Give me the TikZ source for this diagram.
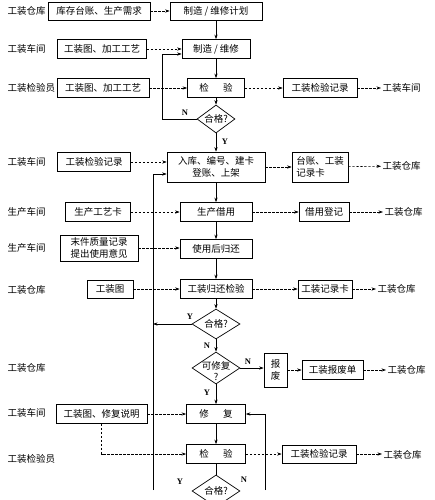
\documentclass[tikz,border=0pt]{standalone}
\usepackage{fontspec}
\setmainfont{Liberation Serif}
\newfontfamily\cjk{Noto Sans CJK SC}
\usetikzlibrary{arrows.meta,shapes.geometric}

\begin{document}
\begin{tikzpicture}[
  x=1pt, y=-1pt,
  every node/.style={font=\cjk\fontsize{9.5}{11.5}\selectfont},
  box/.style={rectangle, draw, line width=0.7pt, align=center, inner sep=1pt, minimum height=19pt},
  who/.style={anchor=west, inner sep=1.5pt},
  dec/.style={diamond, draw, line width=0.7pt, aspect=1.5, inner sep=0pt, minimum width=48pt, minimum height=30pt},
  yn/.style={font=\fontsize{8.5}{10}\selectfont\bfseries, inner sep=0pt},
  arrow/.style={-{Stealth[length=4.5pt,width=3.2pt]}, line width=0.6pt},
  darrow/.style={arrow, dash pattern=on 2.2pt off 1.8pt}
]
\useasboundingbox (0,0) rectangle (435,500);
\clip (0,0) rectangle (435,500);

\node[who] (w1) at (6,11) {工装仓库};
\node[box, minimum width=102pt, minimum height=18pt] (kucun) at (99,11) {库存台账、生产需求};
\node[box, minimum width=92pt, minimum height=18pt] (jihua) at (216,11) {制造 / 维修计划};

\node[who] (w2) at (6,49) {工装车间};
\node[box, minimum width=89pt] (tu1) at (102,49) {工装图、加工工艺};
\node[box, minimum width=68pt] (zhizao) at (216,49) {制造 / 维修};

\node[who] (w3) at (6,88) {工装检验员};
\node[box, minimum width=92pt] (tu2) at (103,88) {工装图、加工工艺};
\node[box, minimum width=57pt] (jian1) at (216,88) {检\hspace{1.5em}验};
\node[box, minimum width=74pt] (jl1) at (320,88) {工装检验记录};
\node[who] (to1) at (381,88) {工装车间};

\node[dec, minimum width=38pt, minimum height=28pt] (hg1) at (216,119) {合格?};

\node[who] (w4) at (6,162) {工装车间};
\node[box, minimum width=73pt] (jl0) at (94,162) {工装检验记录};
\node[box, minimum width=98pt, minimum height=30pt] (ruku) at (216,167) {入库、编号、建卡\\登账、上架};
\node[box, minimum width=56pt, minimum height=30pt, align=left] (taizhang) at (320,167) {台账、工装\\记录卡};
\node[who] (to2) at (381,166) {工装仓库};

\node[who] (w5) at (6,212) {生产车间};
\node[box, minimum width=65pt] (gyk) at (98,212) {生产工艺卡};
\node[box, minimum width=72pt] (jieyong) at (216,212) {生产借用};
\node[box, minimum width=50pt] (dengji) at (324,212) {借用登记};
\node[who] (to3) at (383,212) {工装仓库};

\node[who] (w6) at (6,248) {生产车间};
\node[box, minimum width=78pt, minimum height=26pt] (mojian) at (99,248) {末件质量记录\\提出使用意见};
\node[box, minimum width=72pt] (guihuan) at (216,249) {使用后归还};

\node[who] (w7) at (6,290) {工装仓库};
\node[box, minimum width=46pt, minimum height=18pt] (tu3) at (110,289) {工装图};
\node[box, minimum width=72pt] (ghjy) at (216,289) {工装归还检验};
\node[box, minimum width=54pt, minimum height=18pt] (jlk) at (325,289) {工装记录卡};
\node[who] (to4) at (376,289) {工装仓库};

\node[dec] (hg2) at (216,324) {合格?};

\node[who] (w8) at (6,368) {工装仓库};
\node[dec, minimum height=32pt] (kxf) at (216,368) {};
\node[inner sep=0pt, align=center] (kxft) at (216,371) {可修复\\?};
\node[box, minimum width=23pt, minimum height=34pt] (baofei) at (275.5,370) {报\\废};
\node[box, minimum width=61pt] (bfd) at (332.5,370) {工装报废单};
\node[who] (to5) at (386,370) {工装仓库};

\node[who] (w9) at (6,413) {工装车间};
\node[box, minimum width=91pt] (tu4) at (101.5,414) {工装图、修复说明};
\node[box, minimum width=59pt] (xiufu) at (216,414) {修\hspace{1.5em}复};

\node[who] (w10) at (6,459) {工装检验员};
\node[box, minimum width=59pt] (jian2) at (216,454) {检\hspace{1.5em}验};
\node[box, minimum width=74pt, minimum height=18pt] (jl2) at (319,454) {工装检验记录};
\node[who] (to6) at (382,455) {工装仓库};

\node[dec, minimum height=32pt] (hg3) at (216,491) {合格?};

\node[yn] (n1) at (185,113) {N};
\node[yn] (y1) at (225,142) {Y};
\node[yn] (y2) at (190,317) {Y};
\node[yn] (n2) at (207,346) {N};
\node[yn] (n3) at (248,362) {N};
\node[yn] (y3) at (207,393) {Y};
\node[yn] (y4) at (180,482) {Y};
\node[yn] (n4) at (244,480) {N};

\coordinate (nA) at (162,54);
\coordinate (yA) at (153,174);
\coordinate (yB) at (153,490);
\coordinate (nB) at (265,490);

\draw[darrow] (kucun) -- (jihua);
\draw[arrow] (jihua) -- (zhizao);
\draw[darrow] (tu1) -- (zhizao);
\draw[arrow] (zhizao) -- (jian1);
\draw[darrow] (tu2) -- (jian1);
\draw[darrow] (jian1) -- (jl1);
\draw[darrow] (jl1) -- (to1);
\draw[arrow] (jian1) -- (hg1);
\draw[arrow] (hg1.west) -| (nA) -- (nA -| zhizao.west);
\draw[arrow] (hg1) -- (ruku);
\draw[darrow] (jl0) -- (jl0 -| ruku.west);
\draw[darrow] (ruku) -- (taizhang);
\draw[darrow] (taizhang) -- (to2);
\draw[arrow] (yB) -- (yA) -- (yA -| ruku.west);
\draw[arrow] (ruku) -- (jieyong);
\draw[darrow] (gyk) -- (jieyong);
\draw[darrow] (jieyong) -- (dengji);
\draw[darrow] (dengji) -- (to3);
\draw[arrow] (jieyong) -- (guihuan);
\draw[darrow] (mojian) -- (mojian -| guihuan.west);
\draw[arrow] (guihuan) -- (ghjy);
\draw[darrow] (tu3) -- (ghjy);
\draw[darrow] (ghjy) -- (jlk);
\draw[darrow] (jlk) -- (to4);
\draw[arrow] (ghjy) -- (hg2);
\draw[arrow] (hg2.west) -- (hg2.west -| yA);
\draw[arrow] (hg2) -- (kxf);
\draw[arrow] (kxf.east) -- (kxf.east -| baofei.west);
\draw[darrow] (baofei) -- (bfd);
\draw[darrow] (bfd) -- (to5);
\draw[arrow] (kxf) -- (xiufu);
\draw[darrow] (tu4) -- (xiufu);
\draw[arrow] (nB) |- (xiufu.east);
\draw[arrow] (xiufu) -- (jian2);
\draw[darrow] (tu4.south) |- (jian2.west);
\draw[darrow] (jian2) -- (jl2);
\draw[darrow] (jl2) -- (jl2 -| to6.west);
\draw[line width=0.6pt] (jian2) -- (hg3);
\end{tikzpicture}
\end{document}
